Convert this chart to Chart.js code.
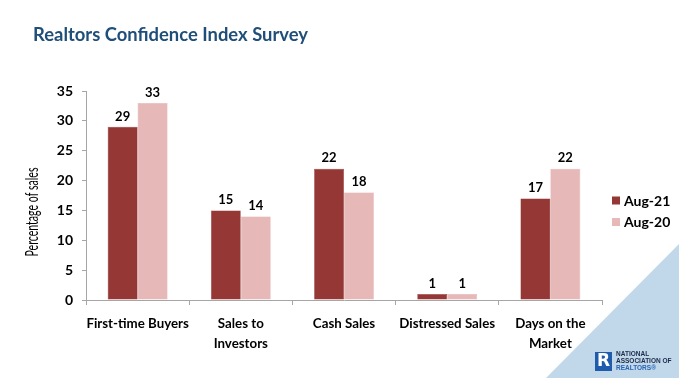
<!DOCTYPE html>
<html>
<head>
<meta charset="utf-8">
<script src="https://cdn.jsdelivr.net/npm/chart.js@4/dist/chart.umd.min.js"></script>
<style>
  html, body { margin: 0; padding: 0; background: #ffffff; }
  #wrap { position: relative; width: 679px; height: 378px; }
</style>
</head>
<body>
<div id="wrap"><canvas id="c" width="679" height="378"></canvas></div>
<script>
const titleText = "Realtors Confidence Index Survey";
const yAxisTitle = "Percentage of sales";
const categories = [["First-time Buyers"], ["Sales to", "Investors"], ["Cash Sales"], ["Distressed Sales"], ["Days on the", "Market"]];
const seriesNames = ["Aug-21", "Aug-20"];
const aug21 = [29, 15, 22, 1, 17];
const aug20 = [33, 14, 18, 1, 22];
const yTicks = [0, 5, 10, 15, 20, 25, 30, 35];
const logoLines = ["NATIONAL", "ASSOCIATION OF", "REALTORS\u00AE"];

const FONT = "Lato, 'Open Sans', sans-serif";
const colors = ["#953735", "#E6B9B8"];

const decorPlugin = {
  id: 'decor',
  beforeDraw(chart) {
    const ctx = chart.ctx;
    ctx.save();
    ctx.fillStyle = "#C0D8E9";
    ctx.beginPath();
    ctx.moveTo(546, 378);
    ctx.lineTo(679, 244);
    ctx.lineTo(679, 378);
    ctx.closePath();
    ctx.fill();
    ctx.restore();
  },
  afterDraw(chart) {
    const ctx = chart.ctx;
    ctx.save();
    // Title
    ctx.fillStyle = "#1F4E79";
    ctx.font = "bold 18.5px " + FONT;
    ctx.textAlign = "left";
    ctx.textBaseline = "middle";
    const tw = ctx.measureText(titleText).width;
    ctx.save();
    ctx.translate(33, 35);
    ctx.scale(Math.min(1, 275 / tw), 1);
    ctx.fillText(titleText, 0, 0);
    ctx.restore();

    // Y axis title (condensed)
    ctx.save();
    ctx.translate(33, 212);
    ctx.rotate(-Math.PI / 2);
    ctx.font = "17px " + FONT;
    const w = ctx.measureText(yAxisTitle).width;
    ctx.scale(89 / w, 1);
    ctx.fillStyle = "#000000";
    ctx.textAlign = "center";
    ctx.textBaseline = "middle";
    ctx.fillText(yAxisTitle, 0, 0);
    ctx.restore();

    // Data labels
    ctx.font = "bold 13px " + FONT;
    ctx.fillStyle = "#000000";
    ctx.textAlign = "center";
    ctx.textBaseline = "bottom";
    chart.data.datasets.forEach((ds, di) => {
      const meta = chart.getDatasetMeta(di);
      meta.data.forEach((bar, i) => {
        ctx.fillText(String(ds.data[i]), bar.x, bar.y - 4);
      });
    });

    // Legend
    const legY = [200.5, 222];
    seriesNames.forEach((name, i) => {
      ctx.fillStyle = colors[i];
      ctx.fillRect(612, legY[i] - 4, 8, 8);
      ctx.fillStyle = "#000000";
      ctx.font = "bold 14px " + FONT;
      ctx.textAlign = "left";
      ctx.textBaseline = "middle";
      ctx.fillText(name, 624, legY[i] + 0.5);
    });

    // Logo
    ctx.fillStyle = "#1F5CAB";
    ctx.fillRect(595, 352, 17, 19);
    ctx.fillStyle = "#ffffff";
    ctx.font = "bold 17px 'DejaVu Sans', sans-serif";
    ctx.textAlign = "center";
    ctx.textBaseline = "middle";
    ctx.fillText("R", 603.5, 362);
    ctx.font = "bold 6.5px 'Liberation Sans', sans-serif";
    ctx.textAlign = "left";
    ctx.fillStyle = "#1B2A4A";
    ctx.fillText(logoLines[0], 616, 354.5);
    ctx.fillText(logoLines[1], 616, 361.5);
    ctx.fillStyle = "#2A64B5";
    ctx.fillText(logoLines[2], 616, 368.5);
    ctx.restore();
  }
};

new Chart(document.getElementById('c'), {
  type: 'bar',
  data: {
    labels: categories,
    datasets: [
      { label: seriesNames[0], data: aug21, backgroundColor: colors[0], borderColor: "#8A3230", borderWidth: 0.5, categoryPercentage: 0.58, barPercentage: 1.0 },
      { label: seriesNames[1], data: aug20, backgroundColor: colors[1], borderColor: "#DDA9A8", borderWidth: 0.5, categoryPercentage: 0.58, barPercentage: 1.0 }
    ]
  },
  options: {
    responsive: false,
    animation: false,
    devicePixelRatio: 1,
    layout: { padding: { left: 0, top: 91, right: 77, bottom: 0 } },
    plugins: { legend: { display: false }, tooltip: { enabled: false }, title: { display: false } },
    scales: {
      x: {
        grid: { display: true, offset: true, drawOnChartArea: false, drawTicks: true, tickLength: 5, color: "#A6A6A6" },
        border: { display: true, color: "#A6A6A6", width: 1 },
        ticks: { color: "#000000", font: { family: FONT, size: 13.3, weight: "bold", lineHeight: 1.55 }, padding: 8, maxRotation: 0, autoSkip: false },
        afterFit(scale) { scale.height = 78; }
      },
      y: {
        min: 0, max: 35,
        afterBuildTicks(scale) { scale.ticks = yTicks.map(v => ({ value: v })); },
        grid: { display: true, drawOnChartArea: false, drawTicks: true, tickLength: 4, color: "#A6A6A6" },
        border: { display: true, color: "#A6A6A6", width: 1 },
        ticks: { color: "#000000", font: { family: FONT, size: 14, weight: "bold" }, padding: 9 },
        afterFit(scale) { scale.width = 86; }
      }
    }
  },
  plugins: [decorPlugin]
});
</script>
</body>
</html>
